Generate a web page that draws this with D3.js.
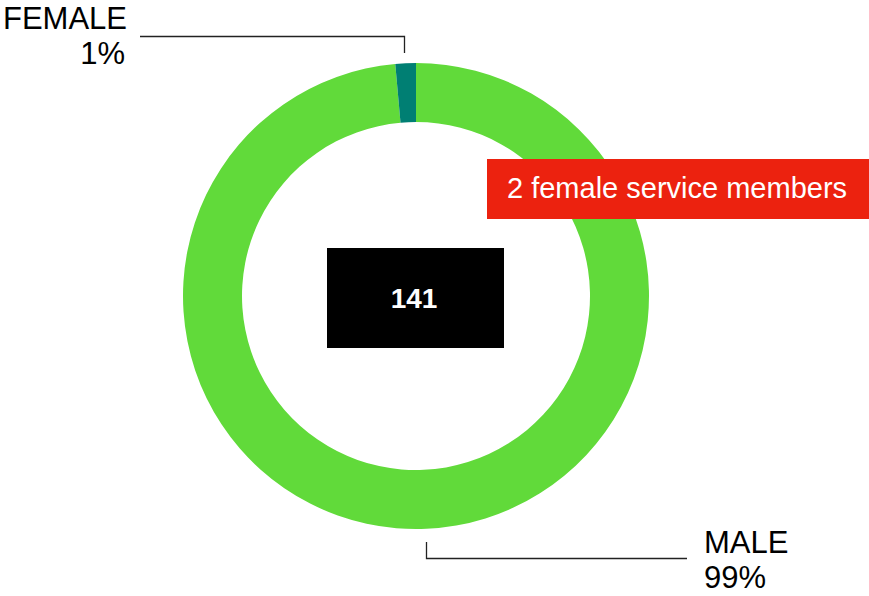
<!DOCTYPE html>
<html>
<head>
<meta charset="utf-8">
<script src="https://cdn.jsdelivr.net/npm/d3@7"></script>
<style>
  body { margin: 0; background: #fff; }
  text { font-family: "Liberation Sans", Arial, Helvetica, sans-serif; }
</style>
</head>
<body>
<div id="chart"></div>
<script>
// data
const categories = ["MALE", "FEMALE"];
const counts = [139, 2];
const percentLabels = ["99%", "1%"];
const total = 141;
const callout = "2 female service members";

const width = 869, height = 596;
const cx = 416, cy = 296;
const outerR = 233, innerR = 174;

const color = d3.scaleOrdinal()
  .domain(categories)
  .range(["#61DA3A", "#007F73"]);

const svg = d3.select("#chart")
  .append("svg")
  .attr("width", width)
  .attr("height", height);

const pie = d3.pie().sort(null).value(d => d.value);
const arc = d3.arc().innerRadius(innerR).outerRadius(outerR);

const slices = pie(categories.map((c, i) => ({ name: c, value: counts[i] })));

const g = svg.append("g").attr("transform", `translate(${cx},${cy})`);

g.selectAll("path")
  .data(slices)
  .join("path")
  .attr("d", arc)
  .attr("fill", d => color(d.data.name));

// leader lines
const lines = svg.append("g")
  .attr("fill", "none")
  .attr("stroke", "#222")
  .attr("stroke-width", 1.3);

lines.append("path").attr("d", "M140,36.5H404.5V53");
lines.append("path").attr("d", "M426.5,542V558.5H687");

// labels
const fs = 31;
svg.append("text").attr("x", 127).attr("y", 29).attr("text-anchor", "end")
  .attr("font-size", fs).text(categories[1]);
svg.append("text").attr("x", 125).attr("y", 64).attr("text-anchor", "end")
  .attr("font-size", fs).text(percentLabels[1]);
svg.append("text").attr("x", 704).attr("y", 553)
  .attr("font-size", fs).text(categories[0]);
svg.append("text").attr("x", 704).attr("y", 588)
  .attr("font-size", fs).text(percentLabels[0]);

// center total box
svg.append("rect").attr("x", 327).attr("y", 248).attr("width", 177).attr("height", 100)
  .attr("fill", "#000");
svg.append("text").attr("x", 414).attr("y", 308).attr("text-anchor", "middle")
  .attr("font-size", 28).attr("font-weight", "bold").attr("fill", "#fff")
  .text(total);

// callout box
svg.append("rect").attr("x", 487).attr("y", 159).attr("width", 382).attr("height", 60)
  .attr("fill", "#EC220F");
svg.append("text").attr("x", 507).attr("y", 198)
  .attr("font-size", 29).attr("fill", "#fff")
  .text(callout);
</script>
</body>
</html>
